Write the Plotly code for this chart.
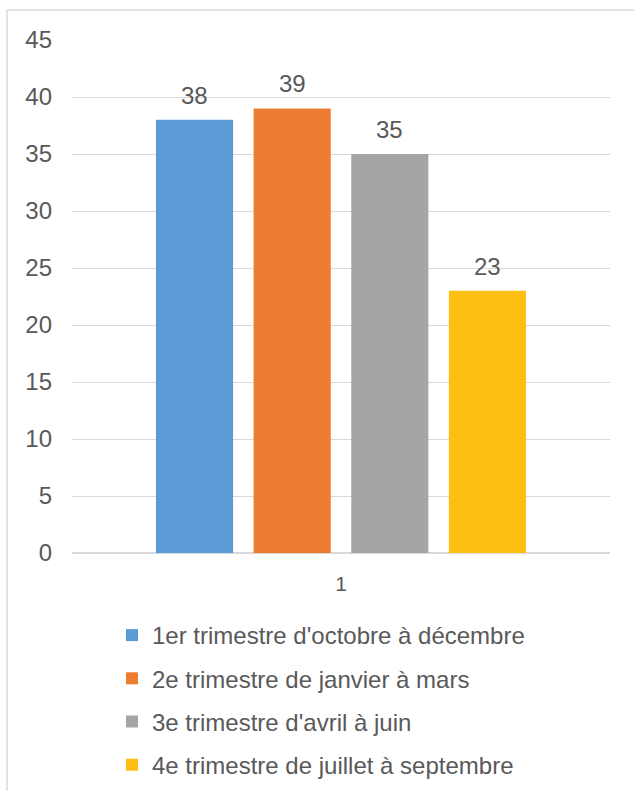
import plotly.graph_objects as go

# Series data
categories = ["1"]
series_names = [
    "1er trimestre d'octobre à décembre",
    "2e trimestre de janvier à mars",
    "3e trimestre d'avril à juin",
    "4e trimestre de juillet à septembre",
]
series_values = [[38], [39], [35], [23]]
series_colors = ["#5b9bd5", "#ed7d31", "#a5a5a5", "#fcbf12"]
y_ticks = [0, 5, 10, 15, 20, 25, 30, 35, 40, 45]

W, H = 634, 791
M_L, M_R, M_T, M_B = 72, 24, 40, 238
BARGAP, BARGROUPGAP = 0.274, 0.21
FONT = "Liberation Sans, Arial, sans-serif"
TXT = "#595959"

fig = go.Figure()
for i, (name, vals, col) in enumerate(zip(series_names, series_values, series_colors)):
    fig.add_trace(go.Bar(
        x=categories, y=vals, name=name,
        marker=dict(color=col, line=dict(width=0)),
        legendgroup=f"g{i}",
    ))

# value labels above each bar, centred on its slot in the group
n = len(series_names)
group_w = 1 - BARGAP
annotations = []
for i, vals in enumerate(series_values):
    for j, v in enumerate(vals):
        xc = j - group_w / 2 + (i + 0.5) * group_w / n
        annotations.append(dict(
            x=xc, y=v, xref="x", yref="y", text=str(v), showarrow=False,
            yanchor="bottom", yshift=9,
            font=dict(family=FONT, size=24, color=TXT),
        ))

# light frame around the chart area (clipped at right/bottom)
plot_w = W - M_L - M_R
plot_h = H - M_T - M_B
def px_to_paper_x(px):
    return (px - M_L) / plot_w
def px_to_paper_y(py):
    return (H - M_B - py) / plot_h

fig.update_layout(
    width=W, height=H,
    margin=dict(l=M_L, r=M_R, t=M_T, b=M_B, autoexpand=False),
    paper_bgcolor="white", plot_bgcolor="white",
    barmode="group", bargap=BARGAP, bargroupgap=BARGROUPGAP,
    font=dict(family=FONT, color=TXT),
    xaxis=dict(
        type="category", range=[-0.5, 0.5], showgrid=False, showline=False,
        zeroline=False, ticks="", tickfont=dict(size=21, color=TXT),
        ticklabelstandoff=16,
    ),
    yaxis=dict(
        range=[0, 45], tickvals=y_ticks, showgrid=True, gridcolor="#d9d9d9",
        gridwidth=1.2, zeroline=True, zerolinecolor="#d9d9d9", zerolinewidth=1.5,
        showline=False, ticks="", tickfont=dict(size=24, color=TXT),
        ticklabelstandoff=19,
    ),
    legend=dict(
        orientation="v", x=px_to_paper_x(112), xanchor="left",
        y=px_to_paper_y(613), yanchor="top",
        font=dict(family=FONT, size=24, color=TXT),
        itemwidth=30, tracegroupgap=9, bgcolor="rgba(0,0,0,0)",
        itemclick=False, itemdoubleclick=False,
    ),
    annotations=annotations,
    shapes=[dict(
        type="rect", xref="paper", yref="paper",
        x0=px_to_paper_x(7), x1=px_to_paper_x(660),
        y0=px_to_paper_y(820), y1=px_to_paper_y(10),
        line=dict(color="#d9d9d9", width=1.5), fillcolor="rgba(0,0,0,0)",
        layer="below",
    )],
    showlegend=True,
)

fig.write_html("out.html")
